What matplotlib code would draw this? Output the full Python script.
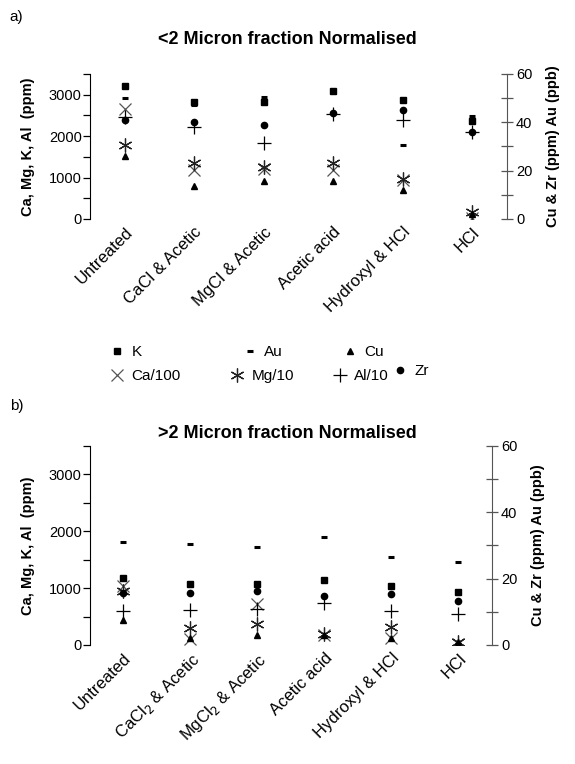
import matplotlib
matplotlib.use("Agg")
import matplotlib.pyplot as plt
from matplotlib.lines import Line2D
import numpy as np

plt.rcParams['font.family'] = ['Liberation Sans', 'DejaVu Sans']

cats_a = ["Untreated", "CaCl & Acetic", "MgCl & Acetic", "Acetic acid", "Hydroxyl & HCl", "HCl"]
cats_b = ["Untreated", "CaCl$_2$ & Acetic", "MgCl$_2$ & Acetic", "Acetic acid", "Hydroxyl & HCl", "HCl"]

# panel a (<2 micron) - left axis (ppm)
a_K = [3220, 2820, 2820, 3080, 2860, 2360]
a_Ca = [2650, 1180, 1200, 1170, 950, 30]
a_Mg = [1790, 1360, 1250, 1360, 960, 180]
a_Al = [2470, 2210, 1830, 2530, 2400, 2090]
# panel a - right axis (Cu, Zr ppm; Au ppb)
a_Au = [50, 47, 50.5, 52.5, 30.5, 42.5]
a_Cu = [26, 13.5, 15.6, 15.6, 12, 2]
a_Zr = [41, 40, 38.8, 44, 45, 36]

# panel b (>2 micron)
b_K = [1180, 1070, 1080, 1140, 1035, 935]
b_Ca = [1035, 100, 720, 170, 130, 20]
b_Mg = [950, 300, 370, 200, 320, 60]
b_Al = [600, 615, 630, 730, 600, 550]
b_Au = [31, 30.5, 29.6, 32.5, 26.4, 24.9]
b_Cu = [7.5, 2, 3, 3, 2, 1]
b_Zr = [15.6, 15.6, 16.4, 14.9, 15.4, 13.4]

W, H = 575, 764
fig = plt.figure(figsize=(W / 100, H / 100), dpi=100)

styles = {
    'K': dict(marker='s', ms=4.5, color='black', mfc='black', mec='black'),
    'Au': dict(marker='_', ms=5, mew=2.2, color='black'),
    'Cu': dict(marker='^', ms=5, color='black', mfc='black', mec='black'),
    'Ca': dict(marker='x', ms=9, mew=0.9, color='#555555'),
    'Mg': dict(marker=(6, 2, 0), ms=10, mew=0.9, color='#222222'),
    'Al': dict(marker='+', ms=10, mew=0.9, color='black'),
    'Zr': dict(marker='o', ms=4.5, color='black', mfc='black', mec='black'),
}


def panel(rect, cats, K, Ca, Mg, Al, Au, Cu, Zr):
    ax = fig.add_axes(rect)
    ax2 = ax.twinx()
    x = np.arange(len(cats))
    ax.plot(x, Ca, ls='none', **styles['Ca'])
    ax.plot(x, Mg, ls='none', **styles['Mg'])
    ax.plot(x, Al, ls='none', **styles['Al'])
    ax.plot(x, K, ls='none', **styles['K'])
    ax2.plot(x, Cu, ls='none', **styles['Cu'])
    ax2.plot(x, Zr, ls='none', **styles['Zr'])
    ax2.plot(x, Au, ls='none', **styles['Au'])
    ax.set_xlim(-0.5, len(cats) - 0.5)
    ax.set_ylim(0, 3500)
    ax2.set_ylim(0, 60)
    ax.set_yticks([0, 1000, 2000, 3000])
    ax.set_yticks([500, 1500, 2500, 3500], minor=True)
    ax2.set_yticks([0, 20, 40, 60])
    ax2.set_yticks([10, 30, 50], minor=True)
    for a in (ax, ax2):
        a.spines['top'].set_visible(False)
        a.spines['bottom'].set_visible(False)
    ax.spines['right'].set_visible(False)
    ax2.spines['left'].set_visible(False)
    ax2.spines['right'].set_color('#555555')
    ax.tick_params(axis='y', which='both', direction='out', length=5, width=0.9, labelsize=10.5, pad=1)
    ax2.tick_params(axis='y', which='both', direction='inout', length=9, width=0.9,
                    color='#555555', labelsize=10.5, pad=2)
    ax.set_xticks(x)
    ax.set_xticklabels(cats, rotation=45, ha='right', rotation_mode='anchor', fontsize=12)
    ax.tick_params(axis='x', length=0, pad=4)
    ax.set_ylabel("Ca, Mg, K, Al  (ppm)", fontsize=10.5, fontweight='bold', labelpad=10)
    ax2.set_ylabel("Cu & Zr (ppm) Au (ppb)", fontsize=10.5, fontweight='bold', labelpad=10)
    return ax, ax2


panel([0.1565, 0.7134, 0.725, 0.1898], cats_a, a_K, a_Ca, a_Mg, a_Al, a_Au, a_Cu, a_Zr)
panel([0.1565, 0.1558, 0.699, 0.2605], cats_b, b_K, b_Ca, b_Mg, b_Al, b_Au, b_Cu, b_Zr)

fig.text(287 / W, 1 - 40 / H, "<2 Micron fraction Normalised", fontsize=13, fontweight='bold',
         ha='center', va='center')
fig.text(287 / W, 1 - 434 / H, ">2 Micron fraction Normalised", fontsize=13, fontweight='bold',
         ha='center', va='center')
fig.text(0.017, 1 - 17 / H, "a)", fontsize=11, va='center')
fig.text(0.017, 1 - 406 / H, "b)", fontsize=11, va='center')

# legend entries placed individually (marker x, y in pixels)
entries = [('K', 'K', 117, 352), ('Au', 'Au', 250, 352), ('Cu', 'Cu', 350, 352),
           ('Ca', 'Ca/100', 117, 376), ('Mg', 'Mg/10', 237, 376), ('Al', 'Al/10', 340, 376),
           ('Zr', 'Zr', 400, 371)]
for key, lab, px, py in entries:
    fig.legend([Line2D([], [], ls='none', **styles[key])], [lab], loc='center left',
               bbox_to_anchor=((px - 7) / W, 1 - py / H), frameon=False, fontsize=11,
               handlelength=0.9, handletextpad=0.5, borderpad=0, borderaxespad=0)

fig.savefig("out.png", dpi=100)
